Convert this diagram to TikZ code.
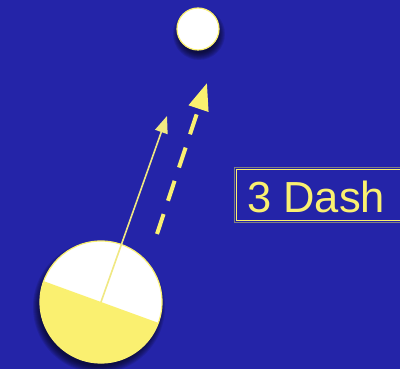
\documentclass[tikz,border=0pt]{standalone}
\usepackage{fontspec}
\setmainfont{Liberation Sans}
\usetikzlibrary{arrows.meta,calc}
\definecolor{bg}{RGB}{36,36,168}
\definecolor{yel}{RGB}{250,240,112}
\definecolor{pale}{RGB}{240,232,130}
\tikzset{
  shadowring/.style={fill=black,fill opacity=0.1}
}
\newcommand{\softshadow}[3]{% center, radius, offset
  \foreach \k in {0,1,...,7}{
    \fill[shadowring] ($(#1)+(#3)$) circle[radius=#2+8-\k];
  }
}
\begin{document}
\begin{tikzpicture}[x=1pt,y=1pt]
\fill[bg] (0,0) rectangle (400,369);
\useasboundingbox (0,0) rectangle (400,369);
\coordinate (c) at (101,67);
\coordinate (s) at (198,340);
\coordinate (t1) at (167,253);
\coordinate (d0) at (157,135);
\coordinate (d1) at (207,286);
% shadows
\softshadow{c}{58}{-2,-5}
\softshadow{s}{18}{1,-5}
% big circle
\fill[white] (c) circle[radius=61];
\fill[yel] ($(c)+(160:61)$) arc[start angle=160,end angle=340,radius=61] -- cycle;
\draw[yel,line width=1.2pt] (c) circle[radius=61];
% small circle
\fill[white] (s) circle[radius=21];
\draw[yel,line width=1.2pt] (s) circle[radius=21];
% arrows
\draw[pale,line width=1.6pt,-{Triangle[length=17pt,width=13pt]}] (c) -- (t1);
\draw[yel,line width=4pt,dash pattern=on 21pt off 14pt,-{Triangle[length=27pt,width=20pt]}] (d0) -- (d1);
% label box
\draw[gray,line width=1pt] (234,146) rectangle (410,201);
\draw[yel,line width=1pt] (236,148) rectangle (410,199);
\node[text=yel,anchor=base west,inner sep=0pt,font=\fontsize{43.5}{44}\selectfont] (lbl) at (247,156) {3 Dash};
\end{tikzpicture}
\end{document}
